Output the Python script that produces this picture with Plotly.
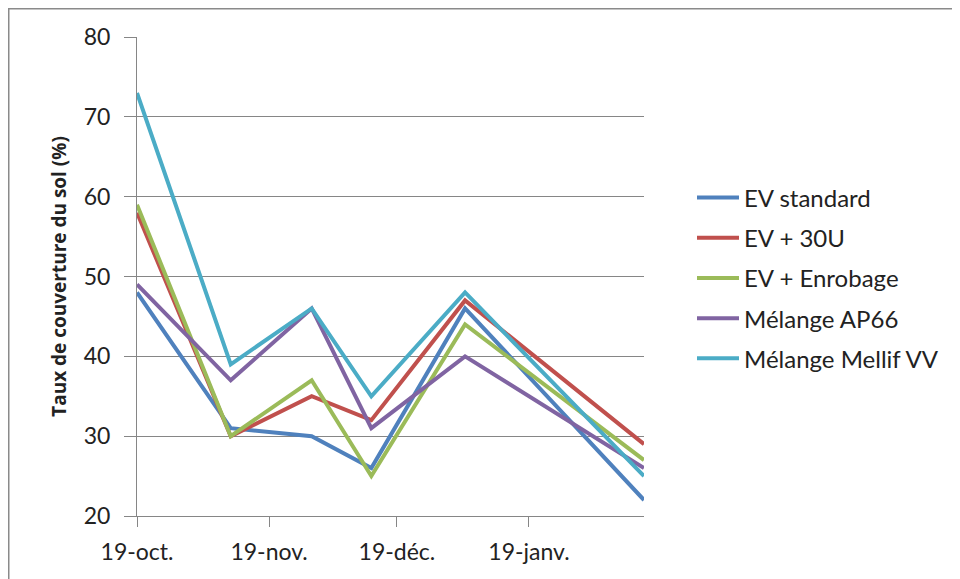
import plotly.graph_objects as go

dates = ["2012-10-19", "2012-11-10", "2012-11-29", "2012-12-13", "2013-01-04", "2013-02-15"]
series_names = ["EV standard", "EV + 30U", "EV + Enrobage", "Mélange AP66", "Mélange Mellif VV"]
ev_standard = [48, 31, 30, 26, 46, 22]
ev_30u = [58, 30, 35, 32, 47, 29]
ev_enrobage = [59, 30, 37, 25, 44, 27]
melange_ap66 = [49, 37, 46, 31, 40, 26]
melange_mellif = [73, 39, 46, 35, 48, 25]
colors = ["#4F81BD", "#C0504D", "#9BBB59", "#8064A2", "#4BACC6"]
tick_vals = ["2012-10-19", "2012-11-19", "2012-12-19", "2013-01-19"]
tick_text = ["19-oct.", "19-nov.", "19-déc.", "19-janv."]
y_ticks = [20, 30, 40, 50, 60, 70, 80]

all_series = [ev_standard, ev_30u, ev_enrobage, melange_ap66, melange_mellif]

fig = go.Figure()
for i, (name, vals, col) in enumerate(zip(series_names, all_series, colors)):
    fig.add_trace(go.Scatter(
        x=dates, y=vals, name=name, mode="lines",
        line=dict(color=col, width=4),
        legendgroup="g%d" % i,
    ))

font_family = "Lato, 'Open Sans', sans-serif"
W, H = 952, 571
L, R, T, B = 129, 316, 29, 63
pw, ph = W - L - R, H - T - B

fig.update_layout(
    width=W, height=H,
    margin=dict(l=L, r=R, t=T, b=B, autoexpand=False),
    paper_bgcolor="white", plot_bgcolor="white",
    font=dict(family=font_family, size=23, color="#222"),
    showlegend=True,
    legend=dict(
        x=(685 - 1 - L) / pw, xanchor="left", y=0.497, yanchor="middle",
        font=dict(family=font_family, size=24, color="#222"),
        itemwidth=42,
        tracegroupgap=6, bgcolor="rgba(0,0,0,0)",
    ),
    xaxis=dict(
        type="date",
        range=["2012-10-19", "2013-02-15"],
        tickmode="array", tickvals=tick_vals, ticktext=tick_text,
        showgrid=False, showline=True, linecolor="#868686", linewidth=1,
        ticks="outside", ticklen=10, tickcolor="#868686",
        tickfont=dict(size=23), zeroline=False,
        ticklabelstandoff=5,
    ),
    yaxis=dict(
        range=[20, 80], tickvals=y_ticks,
        showgrid=True, gridcolor="#868686", gridwidth=1,
        showline=True, linecolor="#868686", linewidth=1,
        ticks="outside", ticklen=12, tickcolor="#868686",
        tickfont=dict(size=23), zeroline=False,
        ticklabelstandoff=9,
        title=dict(text="<b>Taux de couverture du sol (%)</b>",
                   font=dict(size=19, family="'Open Sans', sans-serif"), standoff=12),
    ),
    shapes=[dict(type="rect", xref="paper", yref="paper",
                 x0=(0.75 - L) / pw, x1=(947 - L) / pw,
                 y0=-0.2, y1=(T + ph - 0.75) / ph,
                 line=dict(color="#8a8a8a", width=1.5), layer="below")],
)

fig.write_html("out.html")
